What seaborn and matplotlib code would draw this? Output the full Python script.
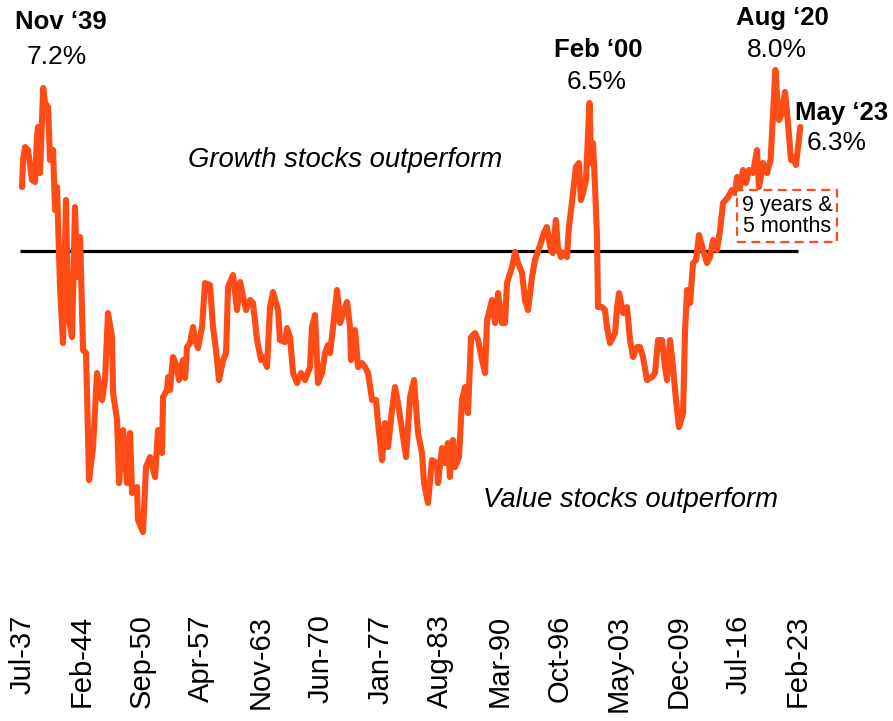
import matplotlib
matplotlib.use("Agg")
import matplotlib.pyplot as plt
import seaborn as sns
import pandas as pd

# Growth vs value relative performance (index, 0 = long-run line)
years = [1937.50, 1937.61, 1937.83, 1938.16, 1938.60, 1938.93, 1939.15, 1939.26, 1939.48, 1939.83,
         1940.04, 1940.37, 1940.59, 1940.92, 1941.14, 1941.36, 1941.69, 1942.02, 1942.35, 1942.57,
         1943.01, 1943.34, 1943.57, 1943.90, 1944.23, 1944.56, 1944.89, 1945.33, 1945.77, 1946.32,
         1946.65, 1946.98, 1947.42, 1947.54, 1947.98, 1948.20, 1948.64, 1949.08, 1949.41, 1949.63,
         1950.18, 1950.29, 1950.84, 1951.17, 1951.62, 1952.17, 1952.50, 1952.94, 1953.05, 1953.49,
         1953.60, 1953.82, 1954.15, 1954.59, 1954.81, 1955.25, 1955.48, 1955.70, 1956.03, 1956.36,
         1956.58, 1956.91, 1957.35, 1957.68, 1958.23, 1958.56, 1958.89, 1959.22, 1959.67, 1960.00,
         1960.22, 1960.77, 1961.21, 1961.55, 1961.88, 1962.21, 1962.65, 1962.97, 1963.42, 1963.86,
         1964.08, 1964.52, 1964.85, 1965.18, 1965.73, 1965.95, 1966.50, 1966.72, 1967.05, 1967.39,
         1967.83, 1968.27, 1968.71, 1969.26, 1969.48, 1969.81, 1970.14, 1970.58, 1970.91, 1971.24,
         1971.47, 1971.80, 1972.24, 1972.57, 1972.90, 1973.34, 1973.67, 1973.78, 1974.22, 1974.55,
         1974.99, 1975.32, 1975.66, 1976.10, 1976.54, 1976.76, 1977.20, 1977.53, 1977.86, 1978.30,
         1978.63, 1978.96, 1979.41, 1979.85, 1980.29, 1980.73, 1981.17, 1981.61, 1981.83, 1982.27,
         1982.71, 1983.26, 1983.37, 1983.81, 1984.14, 1984.47, 1984.69, 1985.03, 1985.25, 1985.69,
         1986.02, 1986.35, 1986.68, 1987.02, 1987.46, 1987.79, 1988.23, 1988.56, 1988.78, 1989.33,
         1989.66, 1990.00, 1990.43, 1990.76, 1990.98, 1991.54, 1991.87, 1992.20, 1992.64, 1992.97,
         1993.30, 1993.74, 1994.07, 1994.71, 1995.04, 1995.37, 1995.82, 1996.04, 1996.37, 1996.59,
         1996.93, 1997.26, 1997.59, 1997.81, 1998.14, 1998.58, 1998.91, 1999.13, 1999.36, 1999.69,
         2000.08, 2000.25, 2000.47, 2000.69, 2000.91, 2001.02, 2001.46, 2001.79, 2002.01, 2002.34,
         2002.90, 2003.12, 2003.34, 2003.78, 2004.22, 2004.55, 2004.88, 2005.32, 2005.65, 2005.98,
         2006.42, 2006.97, 2007.31, 2007.64, 2008.08, 2008.41, 2008.63, 2008.96, 2009.29, 2009.62,
         2009.95, 2010.40, 2010.62, 2010.84, 2011.17, 2011.50, 2011.83, 2012.16, 2012.60, 2013.04,
         2013.37, 2013.70, 2014.14, 2014.48, 2014.81, 2015.36, 2015.80, 2016.13, 2016.35, 2016.68,
         2017.01, 2017.34, 2017.67, 2018.11, 2018.55, 2018.77, 2019.22, 2019.66, 2020.05, 2020.58,
         2020.76, 2020.98, 2021.31, 2021.64, 2021.97, 2022.30, 2022.52, 2022.85, 2023.33]
values = [6.4, 9.1, 10.4, 10.1, 7.1, 6.9, 11.4, 12.4, 7.8, 16.3,
          14.8, 14.4, 9.1, 10.1, 4.1, 6.4, -3.6, -9.2, 5.1, -6.2,
          -8.6, 4.4, -2.6, 1.4, -9.9, -10.2, -22.9, -19.6, -12.2, -14.9,
          -12.9, -6.2, -8.6, -14.2, -16.9, -23.2, -17.9, -23.2, -18.2, -24.2,
          -23.6, -26.9, -28.1, -21.6, -20.6, -22.6, -17.9, -20.2, -14.6, -13.9,
          -12.6, -13.9, -10.6, -11.6, -12.9, -10.9, -12.7, -9.6, -9.2, -7.6,
          -8.9, -9.7, -7.6, -3.2, -3.4, -7.6, -9.9, -12.9, -10.9, -10.2,
          -3.6, -2.4, -5.9, -3.1, -4.6, -5.9, -4.9, -5.2, -8.9, -10.9,
          -10.6, -11.6, -5.6, -4.1, -5.9, -8.9, -9.1, -7.7, -8.6, -12.2,
          -13.2, -12.2, -12.9, -11.6, -7.6, -6.4, -13.2, -12.2, -10.2, -9.4,
          -10.2, -7.6, -3.9, -7.2, -6.2, -5.1, -7.6, -10.9, -7.9, -11.6,
          -11.2, -11.6, -12.2, -14.9, -14.9, -17.2, -20.9, -17.2, -19.6, -15.9,
          -13.6, -15.2, -17.9, -20.6, -14.6, -12.9, -18.2, -20.2, -23.2, -25.2,
          -20.9, -21.2, -23.2, -19.7, -21.2, -19.2, -22.6, -18.9, -21.6, -20.6,
          -14.9, -13.6, -16.2, -8.6, -8.2, -8.9, -10.9, -12.2, -6.9, -4.9,
          -7.2, -4.2, -7.2, -7.2, -3.2, -1.6, -0.1, -1.2, -2.2, -4.9,
          -5.9, -2.6, -0.9, 0.8, 1.8, 2.4, 0.1, -0.2, 3.1, 0.4,
          -0.6, -0.2, -0.6, 2.4, 4.8, 8.4, 8.8, 5.1, 5.8, 7.1,
          14.8, 8.8, 10.8, 6.4, 1.4, -5.6, -5.6, -5.9, -7.6, -9.2,
          -8.2, -5.6, -4.2, -6.2, -5.6, -8.9, -10.6, -9.6, -9.6, -10.6,
          -12.9, -12.6, -12.2, -8.9, -8.9, -11.6, -12.9, -8.9, -11.6, -14.9,
          -17.6, -16.2, -7.9, -3.9, -5.2, -1.2, -0.9, 1.6, 0.1, -1.2,
          -0.6, 1.1, 0.1, 2.1, 4.8, 5.4, 6.1, 5.8, 7.4, 6.4,
          8.1, 6.8, 8.1, 7.8, 10.1, 6.4, 8.8, 7.8, 9.1, 18.1,
          15.6, 13.1, 13.8, 15.9, 12.8, 9.1, 9.4, 8.6, 12.4]

tick_years = [1937.50, 1944.08, 1950.67, 1957.25, 1963.83, 1970.42, 1977.00,
              1983.58, 1990.17, 1996.75, 2003.33, 2009.92, 2016.50, 2023.08]
tick_labels = ["Jul-37", "Feb-44", "Sep-50", "Apr-57", "Nov-63", "Jun-70", "Jan-77",
               "Aug-83", "Mar-90", "Oct-96", "May-03", "Dec-09", "Jul-16", "Feb-23"]

# peak call-outs: (date label, value label, label x, label y, value x, value y)
callouts = [("Nov \u201839", "7.2%", 1941.8, 22.9, 1941.36, 19.4),
            ("Feb \u201800", "6.5%", 2001.0, 20.1, 2000.9, 16.9),
            ("Aug \u201820", "8.0%", 2021.3, 23.3, 2020.76, 20.1),
            ("May \u201823", "6.3%", 2027.9, 13.8, 2027.3, 10.8)]

df = pd.DataFrame({"year": years, "value": values})

sns.set_style("white")
plt.rcParams["font.family"] = ["Liberation Sans", "DejaVu Sans"]
plt.rcParams["text.color"] = "black"
plt.rcParams["xtick.labelcolor"] = "black"

orange = "#FF4B16"
fig = plt.figure(figsize=(8.93, 7.21), dpi=100)
ax = fig.add_axes([0, 0.244, 1, 0.756])

ax.hlines(0, years[0] - 0.2, tick_years[-1], color="black", lw=2.3, zorder=1)
sns.lineplot(data=df, x="year", y="value", color=orange, lw=4.4, ax=ax, zorder=2)

ax.set_xlim(1935.07, 2033.55)
ax.set_ylim(-29.4, 25.1)
ax.set_xticks(tick_years, tick_labels, rotation=90, fontsize=21, color="black")
ax.tick_params(axis="x", length=0, pad=50)
ax.set_yticks([])
ax.set_xlabel("")
ax.set_ylabel("")
for s in ax.spines.values():
    s.set_visible(False)

for head, pct, hx, hy, px, py in callouts:
    ax.text(hx, hy, head, fontsize=18.5, fontweight="bold", ha="center", va="center")
    ax.text(px, py, pct, fontsize=19, ha="center", va="center")

ax.text(1973.1, 9.1, "Growth stocks outperform", fontsize=19.8, style="italic",
        ha="center", va="center")
ax.text(2004.55, -24.9, "Value stocks outperform", fontsize=19.8, style="italic",
        ha="center", va="center")
ax.text(2021.86, 3.5, "9 years &\n5 months", fontsize=15.5, ha="center", va="center",
        linespacing=1.05,
        bbox=dict(boxstyle="square,pad=0.2", facecolor="white", edgecolor=orange,
                  linestyle=(0, (4, 2.5)), lw=1.6))

fig.savefig("out.png", dpi=100)
